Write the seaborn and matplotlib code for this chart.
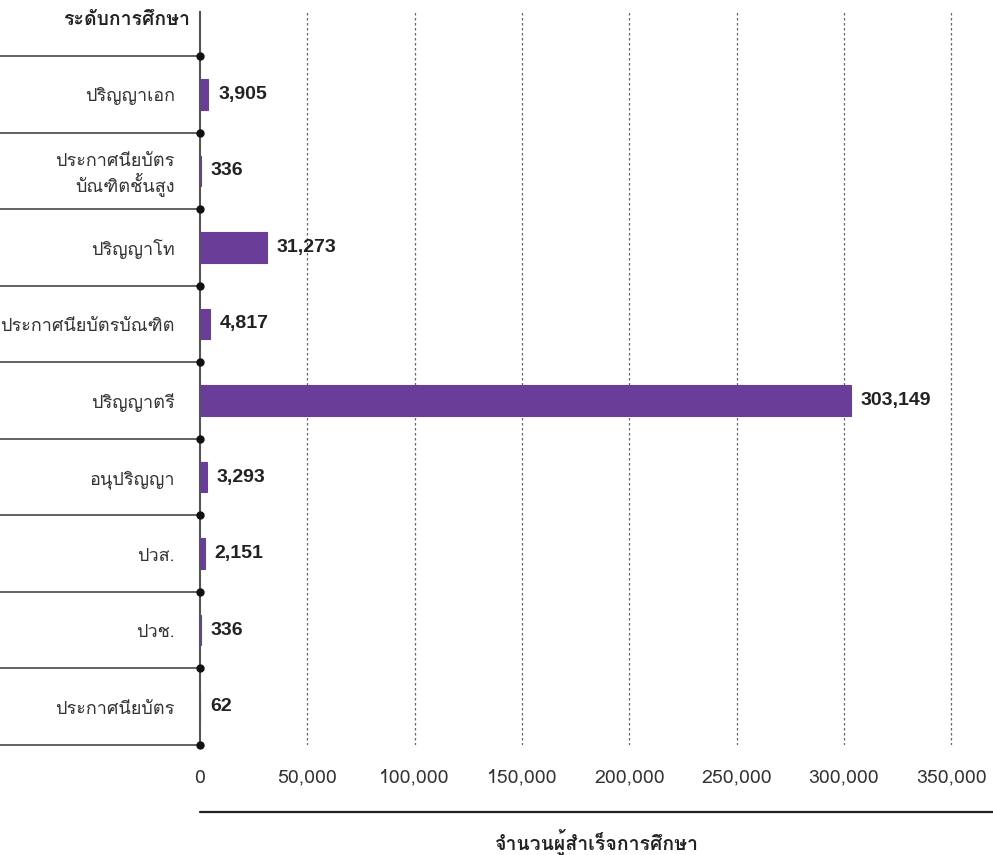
import matplotlib
matplotlib.use('Agg')
import matplotlib.pyplot as plt
import matplotlib.transforms as mtransforms
from matplotlib import font_manager, ft2font
import seaborn as sns
import pandas as pd

# ข้อมูล
levels = ['ปริญญาเอก', 'ประกาศนียบัตร\nบัณฑิตชั้นสูง', 'ปริญญาโท', 'ประกาศนียบัตรบัณฑิต',
          'ปริญญาตรี', 'อนุปริญญา', 'ปวส.', 'ปวช.', 'ประกาศนียบัตร']
graduates = [3905, 336, 31273, 4817, 303149, 3293, 2151, 336, 62]
xticks = [0, 50000, 100000, 150000, 200000, 250000, 300000, 350000]
header = 'ระดับการศึกษา'
xtitle = 'จำนวนผู้สำเร็จการศึกษา'
bar_color = '#6a3d98'


def find_thai_font():
    # หา font ที่มีตัวอักษรไทย
    for f in font_manager.fontManager.ttflist:
        try:
            cmap = ft2font.FT2Font(f.fname).get_charmap()
        except Exception:
            continue
        if 0x0E1B in cmap and 0x0E34 in cmap:
            return f.name
    return 'DejaVu Sans'


sns.set_style('white')
thai = find_thai_font()
plt.rcParams['font.family'] = [thai, 'DejaVu Sans']

df = pd.DataFrame({'level': levels, 'count': graduates})

fig = plt.figure(figsize=(9.93, 8.55), dpi=100)
ax = fig.add_axes([200 / 993, 1 - 745 / 855, 793 / 993, (745 - 12) / 855])

sns.barplot(data=df, x='count', y='level', orient='h', color=bar_color,
            width=0.4, saturation=1, linewidth=0.8, edgecolor=bar_color, ax=ax)

xmax = 793 / 107.3 * 50000
ax.set_xlim(0, xmax)
top = -0.5 - 44 / 76.6
ax.set_ylim(len(levels) - 0.5, top)

for s in ['top', 'right', 'bottom']:
    ax.spines[s].set_visible(False)
ax.spines['left'].set_color('#555555')
ax.spines['left'].set_linewidth(1.5)

for x in xticks[1:]:
    ax.axvline(x, color='#666666', lw=0.9, ls=(0, (2, 2)), zorder=0)

ax.set_xticks(xticks)
ax.set_xticklabels([f'{v:,}' for v in xticks], fontsize=14, color='#333333')
ax.tick_params(axis='x', length=0, pad=17)
ax.tick_params(axis='y', length=0, pad=18)
ax.set_yticks(range(len(levels)))
ax.set_yticklabels(levels, fontsize=13, color='#333333', linespacing=1.1)
ax.set_xlabel('')
ax.set_ylabel('')

# เส้นแบ่งแถวด้านซ้ายพร้อมจุด
trans = mtransforms.blended_transform_factory(ax.transAxes, ax.transData)
for i in range(len(levels) + 1):
    y = i - 0.5
    ax.plot([-200 / 793, 0], [y, y], transform=trans, color='#555555',
            lw=1.3, clip_on=False)
    ax.plot([0], [y], 'o', transform=trans, color='#111111', ms=5,
            clip_on=False, zorder=5)

# ตัวเลขบนแท่ง
for i, v in enumerate(graduates):
    ax.annotate(f'{v:,}', (v, i), xytext=(7, 0), textcoords='offset points',
                ha='left', va='center', fontsize=14, fontweight='bold',
                color='#222222', family=['Liberation Sans', 'DejaVu Sans'])

fig.text(190 / 993, 1 - 20 / 855, header, ha='right', va='center',
         fontsize=14, fontweight='bold', color='#222222')
fig.add_artist(plt.Line2D([200 / 993, 1.0], [1 - 812 / 855, 1 - 812 / 855],
                          color='#222222', lw=1.6))
fig.text(597 / 993, 1 - 842 / 855, xtitle, ha='center', va='center',
         fontsize=14, fontweight='bold', color='#222222')

fig.savefig('out.png', dpi=100)
